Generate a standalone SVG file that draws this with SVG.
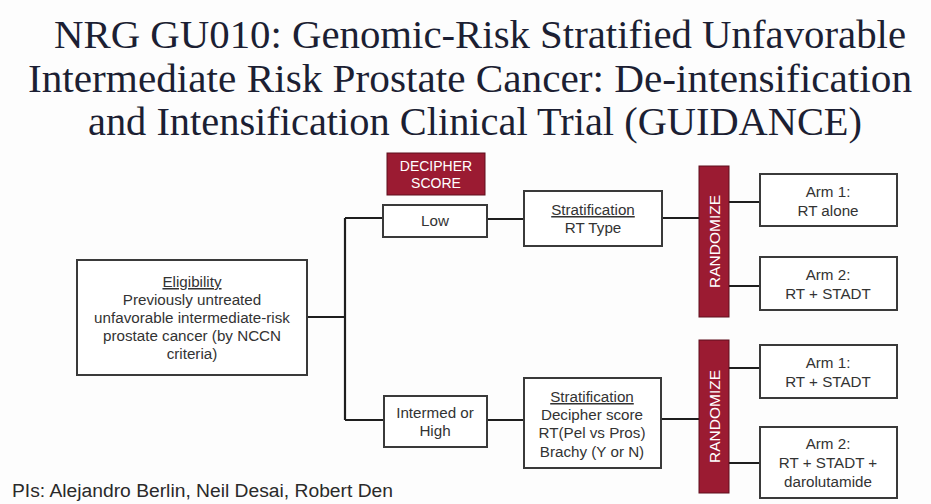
<svg xmlns="http://www.w3.org/2000/svg" width="931" height="504" viewBox="0 0 931 504">
<style>
.title{font-family:"Liberation Serif","Times New Roman",serif;font-size:41px;fill:#1c1f33;text-anchor:middle}
.box{fill:#fff;stroke:#3a3a3a;stroke-width:2}
.red{fill:#9b1b32;stroke:#5e0f1c;stroke-width:1}
.t{font-family:"Liberation Sans",Arial,sans-serif;font-size:15.2px;fill:#333;text-anchor:middle}
.w{font-family:"Liberation Sans",Arial,sans-serif;font-size:14px;fill:#fff;text-anchor:middle}
.r{font-family:"Liberation Sans",Arial,sans-serif;font-size:15.5px;fill:#fff;text-anchor:middle}
.u{text-decoration:underline}
.conn{fill:none;stroke:#1e1e1e;stroke-width:2.2}
</style>
<rect width="931" height="504" fill="#fdfdfd"/>
<g id="title">
<text class="title" x="480" y="48" textLength="852" lengthAdjust="spacingAndGlyphs">NRG GU010: Genomic-Risk Stratified Unfavorable</text>
<text class="title" x="470" y="92" textLength="884" lengthAdjust="spacingAndGlyphs">Intermediate Risk Prostate Cancer: De-intensification</text>
<text class="title" x="475" y="135" textLength="774" lengthAdjust="spacingAndGlyphs">and Intensification Clinical Trial (GUIDANCE)</text>
</g>
<g id="connectors">
<path class="conn" d="M307 317H345M345 218V420M345 218H383M345 420H384"/>
<path class="conn" d="M487 219H524M662 218H699M487 420H524M661 419H699"/>
<path class="conn" d="M729 202H760M729 286H760M729 368H760M729 463H760"/>
</g>
<g id="eligibility">
<rect class="box" x="77" y="260" width="230" height="115"/>
<text class="t u" x="192" y="287">Eligibility</text>
<text class="t" x="192" y="305">Previously untreated</text>
<text class="t" x="192" y="323">unfavorable intermediate-risk</text>
<text class="t" x="192" y="341">prostate cancer (by NCCN</text>
<text class="t" x="192" y="359">criteria)</text>
</g>
<g id="decipher">
<rect class="red" x="387" y="153" width="98" height="42"/>
<text class="w" x="436" y="171">DECIPHER</text>
<text class="w" x="436" y="188">SCORE</text>
</g>
<g id="low">
<rect class="box" x="383" y="205" width="104" height="32"/>
<text class="t" x="435" y="226">Low</text>
</g>
<g id="strat1">
<rect class="box" x="524" y="191" width="138" height="55"/>
<text class="t u" x="593" y="215">Stratification</text>
<text class="t" x="593" y="233">RT Type</text>
</g>
<g id="intermed">
<rect class="box" x="384" y="396" width="103" height="51"/>
<text class="t" x="435" y="418">Intermed or</text>
<text class="t" x="435" y="436">High</text>
</g>
<g id="strat2">
<rect class="box" x="524" y="378" width="137" height="90"/>
<text class="t u" x="592" y="402">Stratification</text>
<text class="t" x="592" y="420">Decipher score</text>
<text class="t" x="592" y="438">RT(Pel vs Pros)</text>
<text class="t" x="592" y="457">Brachy (Y or N)</text>
</g>
<g id="randomize1">
<rect class="red" x="699" y="166" width="30" height="151"/>
<text class="r" transform="translate(719.5 241.5) rotate(-90)">RANDOMIZE</text>
</g>
<g id="randomize2">
<rect class="red" x="699" y="340" width="30" height="153"/>
<text class="r" transform="translate(719.5 416.5) rotate(-90)">RANDOMIZE</text>
</g>
<g id="arm1a">
<rect class="box" x="760" y="174" width="137" height="52"/>
<text class="t" x="828" y="197">Arm 1:</text>
<text class="t" x="828" y="216">RT alone</text>
</g>
<g id="arm2a">
<rect class="box" x="760" y="257" width="137" height="53"/>
<text class="t" x="828" y="280">Arm 2:</text>
<text class="t" x="828" y="299">RT + STADT</text>
</g>
<g id="arm1b">
<rect class="box" x="760" y="345" width="137" height="53"/>
<text class="t" x="828" y="368">Arm 1:</text>
<text class="t" x="828" y="387">RT + STADT</text>
</g>
<g id="arm2b">
<rect class="box" x="760" y="427" width="137" height="71"/>
<text class="t" x="828" y="449">Arm 2:</text>
<text class="t" x="828" y="468">RT + STADT +</text>
<text class="t" x="828" y="487">darolutamide</text>
</g>
<text x="12" y="497" font-family="Liberation Sans, Arial, sans-serif" font-size="18" fill="#2a2a2a" textLength="381" lengthAdjust="spacingAndGlyphs">PIs: Alejandro Berlin, Neil Desai, Robert Den</text>
</svg>
